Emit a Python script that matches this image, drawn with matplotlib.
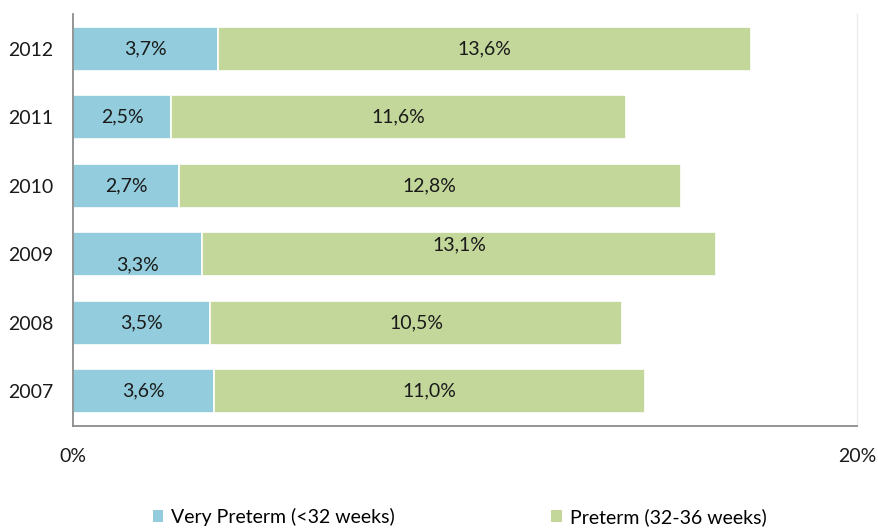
import matplotlib
matplotlib.use("Agg")
import matplotlib.pyplot as plt
from matplotlib.patches import Patch

plt.rcParams['font.family'] = ['Lato', 'DejaVu Sans']

years = ["2007", "2008", "2009", "2010", "2011", "2012"]
very_preterm = [3.6, 3.5, 3.3, 2.7, 2.5, 3.7]
preterm = [11.0, 10.5, 13.1, 12.8, 11.6, 13.6]
series_names = ["Very Preterm (<32 weeks)", "Preterm (32-36 weeks)"]
x_ticks = [0, 20]
x_tick_labels = ["0%", "20%"]

blue = "#93CDDD"
green = "#C4D79B"
fs = 14

fig = plt.figure(figsize=(8.79, 5.28), dpi=100)
ax = fig.add_axes([73 / 879, 1 - 426 / 528, (857 - 73) / 879, (426 - 14) / 528])

pos = list(range(len(years)))
h = 0.64
ax.barh(pos, very_preterm, height=h, color=blue, edgecolor="white", linewidth=1.2)
ax.barh(pos, preterm, left=very_preterm, height=h, color=green, edgecolor="white", linewidth=1.2)


def fmt(v):
    return f"{v:.1f}%".replace(".", ",")


# per-label vertical offsets (points) for the 2009 row, whose labels sit off-centre
off_vp = {2: -8}
off_p = {2: 7}
for i, (a, b) in enumerate(zip(very_preterm, preterm)):
    ax.annotate(fmt(a), (a / 2, i), xytext=(0, off_vp.get(i, 0)), textcoords="offset points",
                ha="center", va="center", fontsize=fs, color="#1a1a1a")
    ax.annotate(fmt(b), (a + b / 2, i), xytext=(0, off_p.get(i, 0)), textcoords="offset points",
                ha="center", va="center", fontsize=fs, color="#1a1a1a")

ax.set_xlim(0, 20)
ax.set_ylim(-0.51, 5.51)
ax.set_xticks(x_ticks)
ax.set_xticklabels(x_tick_labels)
ax.set_yticks(pos)
ax.set_yticklabels(years)
ax.tick_params(axis="both", length=0, labelsize=fs, colors="#1a1a1a")
ax.tick_params(axis="y", pad=14)
ax.tick_params(axis="x", pad=16)

ax.spines["top"].set_visible(False)
ax.spines["left"].set_color("#8c8c8c")
ax.spines["bottom"].set_color("#8c8c8c")
ax.spines["left"].set_linewidth(1.3)
ax.spines["bottom"].set_linewidth(1.3)
ax.spines["right"].set_color("#ececec")
ax.spines["right"].set_linewidth(1.0)

handles = [Patch(facecolor=blue, edgecolor="none"), Patch(facecolor=green, edgecolor="none")]
fig.legend(handles, series_names, loc="center", bbox_to_anchor=(0.523, 1 - 517 / 528), ncol=2,
           frameon=False, fontsize=fs, handlelength=0.55, handleheight=0.55,
           handletextpad=0.4, columnspacing=8.05)

fig.savefig("out.png", dpi=100)
